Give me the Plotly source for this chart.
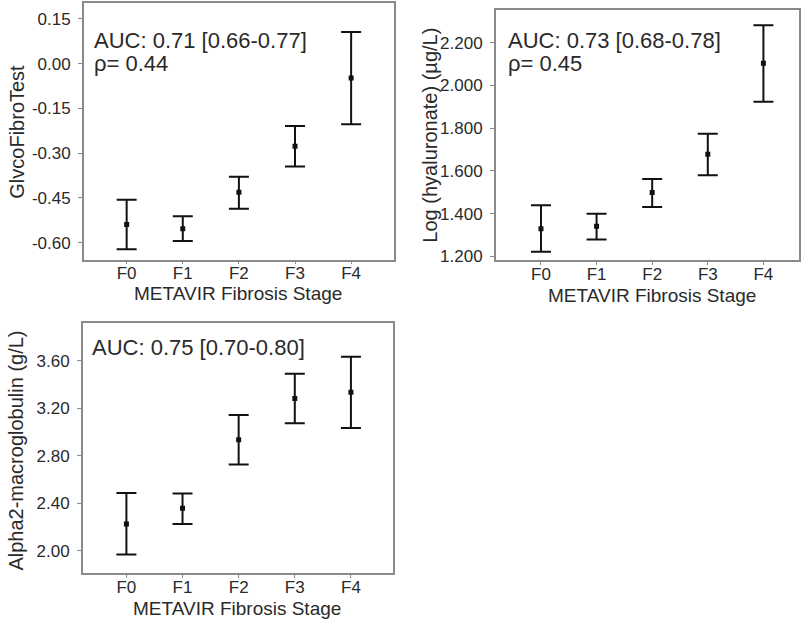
import plotly.graph_objects as go

stages = ["F0", "F1", "F2", "F3", "F4"]

# Panel 1: GlycoFibroTest
gft_mean = [-0.539, -0.553, -0.431, -0.277, -0.048]
gft_upper = [-0.456, -0.511, -0.379, -0.209, 0.106]
gft_lower = [-0.622, -0.594, -0.486, -0.345, -0.203]

# Panel 2: Log hyaluronate
ha_mean = [1.330, 1.341, 1.499, 1.678, 2.104]
ha_upper = [1.439, 1.400, 1.562, 1.774, 2.282]
ha_lower = [1.222, 1.279, 1.431, 1.580, 1.924]

# Panel 3: Alpha2-macroglobulin
a2m_mean = [2.225, 2.356, 2.933, 3.281, 3.333]
a2m_upper = [2.486, 2.481, 3.142, 3.489, 3.633]
a2m_lower = [1.967, 2.225, 2.725, 3.072, 3.033]

gft_ticks = [0.15, 0.00, -0.15, -0.30, -0.45, -0.60]
ha_ticks = [1.2, 1.4, 1.6, 1.8, 2.0, 2.2]
a2m_ticks = [2.0, 2.4, 2.8, 3.2, 3.6]

W, H = 801, 629
FONT = "Liberation Sans, Arial, sans-serif"
TXT = "#2a2a2a"
FRAME = "#8a8a8a"

fig = go.Figure()

def add_panel(idx, mean, upper, lower):
    xa = "x" if idx == 1 else f"x{idx}"
    ya = "y" if idx == 1 else f"y{idx}"
    fig.add_trace(go.Scatter(
        x=stages, y=mean, mode="markers",
        marker=dict(symbol="square", size=5, color="#111111"),
        error_y=dict(type="data", symmetric=False,
                     array=[u - m for u, m in zip(upper, mean)],
                     arrayminus=[m - l for m, l in zip(mean, lower)],
                     color="#111111", thickness=2, width=10),
        xaxis=xa, yaxis=ya, showlegend=False, hoverinfo="skip"))

add_panel(1, gft_mean, gft_upper, gft_lower)
add_panel(2, ha_mean, ha_upper, ha_lower)
add_panel(3, a2m_mean, a2m_upper, a2m_lower)

def xaxis(domain, rng, anchor):
    return dict(domain=domain, range=rng, type="category", anchor=anchor,
                showline=True, mirror=True, linecolor=FRAME, linewidth=1.5,
                ticks="outside", ticklen=3, tickcolor=FRAME, showgrid=False,
                zeroline=False, ticklabelstandoff=-6,
                tickfont=dict(family=FONT, size=17, color=TXT))

def yaxis(domain, rng, anchor, ticks, fmt):
    return dict(domain=domain, range=rng, anchor=anchor,
                showline=True, mirror=True, linecolor=FRAME, linewidth=1.5,
                ticks="outside", ticklen=4, tickcolor=FRAME, showgrid=False,
                zeroline=False, tickvals=ticks, ticklabelstandoff=4,
                ticktext=[fmt.format(t) for t in ticks],
                tickfont=dict(family=FONT, size=17, color=TXT))

fig.update_layout(
    width=W, height=H, margin=dict(l=0, r=0, t=0, b=0),
    paper_bgcolor="white", plot_bgcolor="white",
    xaxis=xaxis([84 / W, 395 / W], [-0.764, 4.764], "y"),
    yaxis=yaxis([1 - 262 / H, 1 - 3 / H], [-0.656, 0.203], "x",
                gft_ticks, "{:.2f}"),
    xaxis2=xaxis([497 / W, 1.0], [-0.813, 4.64], "y2"),
    yaxis2=yaxis([1 - 263 / H, 1 - 10 / H], [1.181, 2.354], "x2",
                 ha_ticks, "{:.3f}"),
    xaxis3=xaxis([83 / W, 394 / W], [-0.777, 4.75], "y3"),
    yaxis3=yaxis([1 - 579 / H, 1 - 326 / H], [1.808, 3.917], "x3",
                 a2m_ticks, "{:.2f}"),
)

def label(x, y, text, size, anchor="left", angle=0):
    fig.add_annotation(x=x / W, y=1 - y / H, xref="paper", yref="paper",
                       xanchor=anchor, yanchor="middle", showarrow=False,
                       textangle=angle, text=text, borderpad=0,
                       font=dict(family=FONT, size=size, color=TXT))

# statistics text
label(93, 41, "AUC: 0.71 [0.66-0.77]", 22)
label(93, 64, "ρ= 0.44", 22)
label(508, 41, "AUC: 0.73 [0.68-0.78]", 22)
label(508, 64, "ρ= 0.45", 22)
label(91, 351, "AUC: 0.75 [0.70-0.80]", 22)

# axis titles
label(239, 296, "METAVIR Fibrosis Stage", 19, "center")
label(654, 298, "METAVIR Fibrosis Stage", 19, "center")
label(238, 614, "METAVIR Fibrosis Stage", 19, "center")
label(17, 133, "GlvcoFibroTest", 20, "center", -90)
label(431, 136, "Log (hyaluronate) (µg/L)", 20, "center", -90)
label(16, 455, "Alpha2-macroglobulin (g/L)", 20, "center", -90)

fig.write_html(
    "out.html",
    config={"displayModeBar": False},
    post_script="document.body.style.margin='0';"
                "document.body.style.overflow='hidden';")
